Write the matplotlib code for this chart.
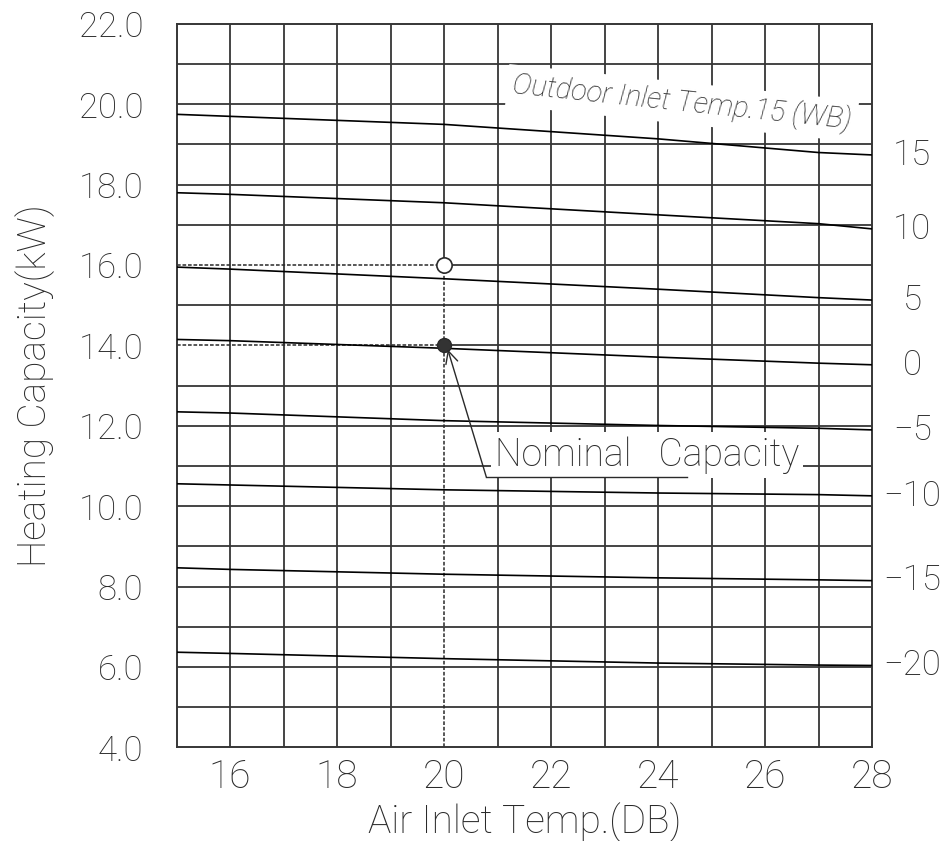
import matplotlib
matplotlib.use('Agg')
import matplotlib.pyplot as plt
import numpy as np

# Heating capacity curves, one per outdoor inlet temperature (WB)
air_temp = [15, 16, 20, 24, 27, 28]
outdoor_temps = [15, 10, 5, 0, -5, -10, -15, -20]
cap_15 = [19.75, 19.70, 19.50, 19.14, 18.80, 18.74]
cap_10 = [17.80, 17.76, 17.55, 17.25, 17.03, 16.90]
cap_5 = [15.95, 15.90, 15.66, 15.40, 15.19, 15.13]
cap_0 = [14.15, 14.12, 13.93, 13.71, 13.56, 13.52]
cap_m5 = [12.35, 12.32, 12.13, 12.01, 11.94, 11.90]
cap_m10 = [10.56, 10.53, 10.41, 10.33, 10.29, 10.26]
cap_m15 = [8.47, 8.43, 8.31, 8.22, 8.17, 8.15]
cap_m20 = [6.37, 6.34, 6.21, 6.10, 6.05, 6.04]
curves = [cap_15, cap_10, cap_5, cap_0, cap_m5, cap_m10, cap_m15, cap_m20]

# nominal point (filled) and reference point (open)
nominal_x = 20
nominal_cap = 14.0
open_cap = 16.0

x_ticks = [16, 18, 20, 22, 24, 26, 28]
y_ticks = [4, 6, 8, 10, 12, 14, 16, 18, 20, 22]

plt.rcParams['font.family'] = ['Roboto', 'DejaVu Sans']
plt.rcParams['font.weight'] = 'light'
plt.rcParams['axes.labelweight'] = 'light'
ink = '#2a2a2a'
grid_c = '#363636'

fig = plt.figure(figsize=(9.45, 8.41), dpi=100)
ax = fig.add_axes([0.1868, 0.1112, 0.736, 0.8604])
ax.set_xlim(15, 28)
ax.set_ylim(4, 22)

# grid every 1 unit, with the reference lines replaced by dashes
for gx in range(16, 28):
    if gx == nominal_x:
        ax.vlines(gx, open_cap, 22, color=grid_c, lw=1.3, zorder=1)
    else:
        ax.vlines(gx, 4, 22, color=grid_c, lw=1.3, zorder=1)
for gy in range(5, 22):
    if gy in (nominal_cap, open_cap):
        ax.hlines(gy, nominal_x, 28, color=grid_c, lw=1.3, zorder=1)
    else:
        ax.hlines(gy, 15, 28, color=grid_c, lw=1.3, zorder=1)

dash = (0, (2.4, 1.2))
ax.hlines([open_cap, nominal_cap], 15, nominal_x, color=ink, lw=1.1, linestyle=dash, zorder=2)
ax.vlines(nominal_x, 4, open_cap, color=ink, lw=1.1, linestyle=dash, zorder=2)

for t, c in zip(outdoor_temps, curves):
    ax.plot(air_temp, c, color='black', lw=1.2, zorder=3)
    ax.annotate(str(t).replace('-', '\u2212'), xy=(28, c[-1]), xytext=(29, 0),
                textcoords='offset points', ha='center', va='center', fontsize=25,
                color=ink, annotation_clip=False)

ax.plot(nominal_x, open_cap, 'o', ms=11, mfc='white', mec=ink, mew=1.2, zorder=5)
ax.plot(nominal_x, nominal_cap, 'o', ms=10, mfc='#333333', mec=ink, mew=1.0, zorder=5)

# Nominal capacity leader
ax.text(20.95, 11.28, 'Nominal   Capacity', fontsize=27, color=ink, va='center', ha='left',
        bbox=dict(facecolor='white', edgecolor='none', pad=3), zorder=6)
ax.plot([24.54, 20.79], [10.73, 10.73], color=ink, lw=1.0, zorder=7)
ax.annotate('', xy=(20.07, 13.9), xytext=(20.79, 10.73),
            arrowprops=dict(arrowstyle='->', color=ink, lw=1.0, shrinkA=0, shrinkB=0,
                            mutation_scale=22), zorder=7)

ax.text(24.45, 20.03, 'Outdoor Inlet Temp.15 (WB)', fontsize=21, color=ink,
        style='italic', ha='center', va='center', rotation=-6, rotation_mode='anchor',
        bbox=dict(facecolor='white', edgecolor='none', pad=4), zorder=6)

ax.set_xticks(x_ticks)
ax.set_xticklabels([str(v) for v in x_ticks])
ax.set_yticks(y_ticks)
ax.set_yticklabels(['%.1f' % v for v in y_ticks])
ax.tick_params(axis='x', length=0, pad=8, labelsize=28, labelcolor=ink)
ax.tick_params(axis='y', length=0, pad=24, labelsize=25, labelcolor=ink)
for s in ax.spines.values():
    s.set_color(grid_c)
    s.set_linewidth(1.4)

ax.set_xlabel('Air Inlet Temp.(DB)', fontsize=28, color=ink, labelpad=4)
ax.set_ylabel('Heating Capacity(kW)', fontsize=28, color=ink, labelpad=17)

fig.savefig('out.png', dpi=100)
